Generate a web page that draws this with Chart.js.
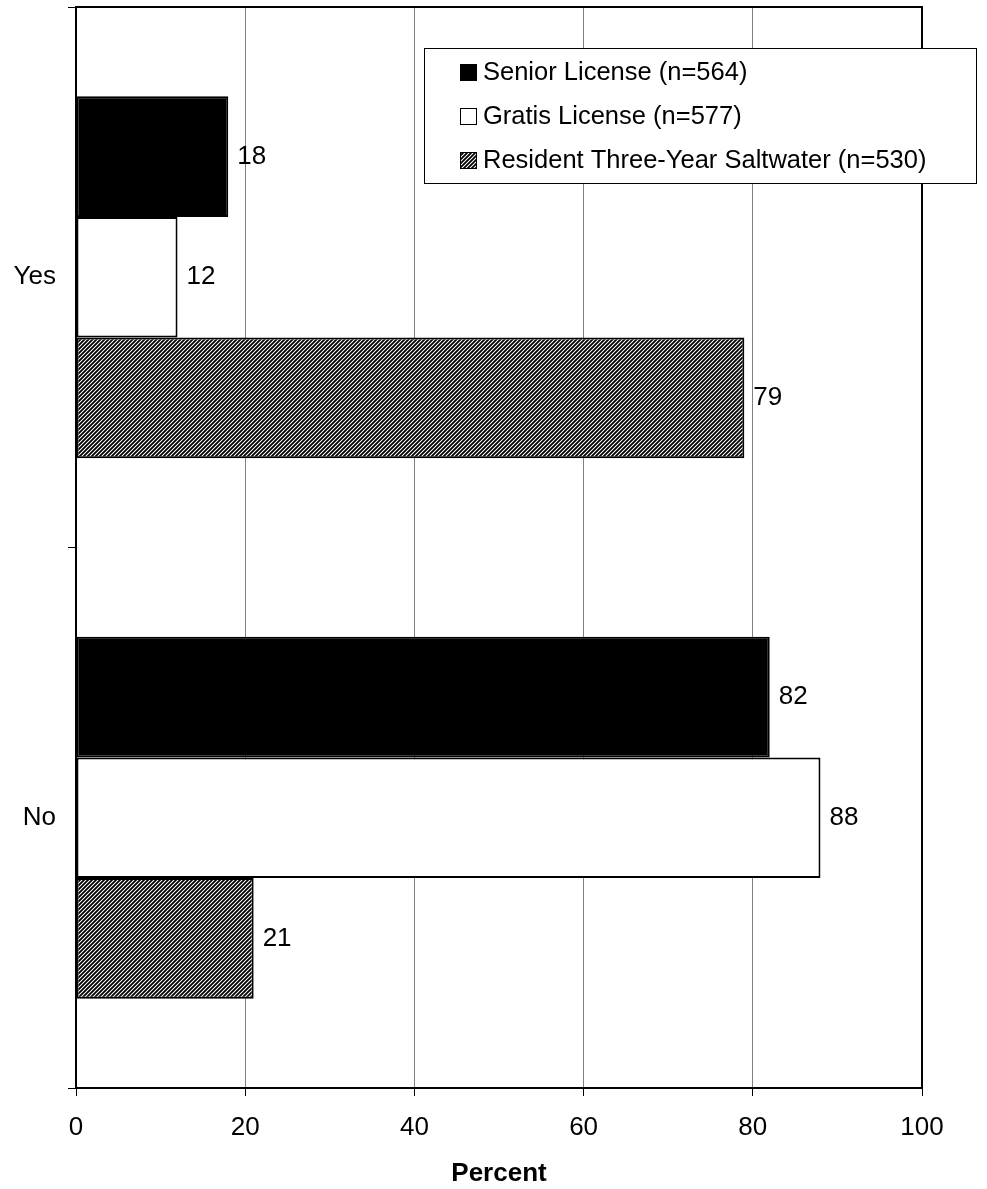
<!DOCTYPE html>
<html>
<head>
<meta charset="utf-8">
<script src="https://cdn.jsdelivr.net/npm/chart.js@4.4.1/dist/chart.umd.min.js"></script>
<style>
  body { margin: 0; background: #fff; }
  canvas { display: block; }
</style>
</head>
<body>
<canvas id="licenseChart" width="987" height="1189"></canvas>
<script>
// categories and series values (percent)
var categories = ["Yes", "No"];
var seniorValues = [18, 82];
var gratisValues = [12, 88];
var residentValues = [79, 21];
var seriesLabels = ["Senior License (n=564)", "Gratis License (n=577)", "Resident Three-Year Saltwater (n=530)"];
var xTicks = [0, 20, 40, 60, 80, 100];

var FONT = "'Liberation Sans', Arial, sans-serif";

// diagonal hatch for the third series
function makeHatch() {
	var c = document.createElement("canvas");
	c.width = 4; c.height = 4;
	var g = c.getContext("2d");
	g.fillStyle = "#fff";
	g.fillRect(0, 0, 4, 4);
	g.strokeStyle = "#000";
	g.lineWidth = 1.8;
	g.beginPath();
	g.moveTo(-1, 5); g.lineTo(5, -1);
	g.moveTo(-1, 1); g.lineTo(1, -1);
	g.moveTo(3, 5); g.lineTo(5, 3);
	g.stroke();
	return document.getElementById("licenseChart").getContext("2d").createPattern(c, "repeat");
}
var hatch = makeHatch();

var frame = {
	id: "frame",
	afterDatasetsDraw: function(chart) {
		var a = chart.chartArea, ctx = chart.ctx;
		ctx.save();
		ctx.strokeStyle = "#000";
		ctx.lineWidth = 2;
		ctx.strokeRect(a.left, a.top, a.right - a.left, a.bottom - a.top);
		ctx.restore();
	}
};

var valueLabels = {
	id: "valueLabels",
	afterDatasetsDraw: function(chart) {
		var ctx = chart.ctx;
		ctx.save();
		ctx.font = "26px " + FONT;
		ctx.fillStyle = "#000";
		ctx.textAlign = "left";
		ctx.textBaseline = "middle";
		chart.data.datasets.forEach(function(ds, i) {
			chart.getDatasetMeta(i).data.forEach(function(bar, j) {
				ctx.fillText(ds.data[j], bar.x + 9, bar.y);
			});
		});
		ctx.restore();
	}
};

var boxLegend = {
	id: "boxLegend",
	afterDraw: function(chart) {
		var ctx = chart.ctx;
		var bx = 424, by = 48, bw = 552, bh = 135;
		ctx.save();
		ctx.fillStyle = "#fff";
		ctx.fillRect(bx, by, bw, bh);
		ctx.strokeStyle = "#000";
		ctx.lineWidth = 1;
		ctx.strokeRect(bx + 0.5, by + 0.5, bw, bh);
		ctx.font = "25.5px " + FONT;
		ctx.textBaseline = "middle";
		chart.data.datasets.forEach(function(ds, i) {
			var cy = 72 + i * 44;
			ctx.fillStyle = ds.backgroundColor;
			ctx.fillRect(460, cy - 8, 17, 17);
			ctx.strokeStyle = "#000";
			ctx.lineWidth = 1;
			ctx.strokeRect(460.5, cy - 7.5, 16, 16);
			ctx.fillStyle = "#000";
			ctx.fillText(ds.label, 483, cy + 1);
		});
		ctx.restore();
	}
};

new Chart("licenseChart", {
	type: "bar",
	data: {
		labels: categories,
		datasets: [
			{label: seriesLabels[0], data: seniorValues, backgroundColor: "#000", borderColor: "#000", borderWidth: 2, borderSkipped: false},
			{label: seriesLabels[1], data: gratisValues, backgroundColor: "#fff", borderColor: "#000", borderWidth: 2, borderSkipped: false},
			{label: seriesLabels[2], data: residentValues, backgroundColor: hatch, borderColor: "#000", borderWidth: 2, borderSkipped: false}
		]
	},
	options: {
		indexAxis: "y",
		responsive: false,
		animation: false,
		devicePixelRatio: 1,
		categoryPercentage: 0.67,
		barPercentage: 1.0,
		layout: {padding: {top: 7, right: 65, left: 0, bottom: 0}},
		plugins: {legend: {display: false}, tooltip: {enabled: false}},
		scales: {
			x: {
				min: 0, max: 100,
				afterBuildTicks: function(scale) { scale.ticks = xTicks.map(function(v){ return {value: v}; }); },
				afterFit: function(scale) { scale.height = 101; },
				grid: {color: "#808080", lineWidth: 1, tickColor: "#000", tickLength: 8},
				border: {color: "#000", width: 2},
				ticks: {color: "#000", font: {family: FONT, size: 26}, padding: 16, maxRotation: 0},
				title: {display: true, text: "Percent", color: "#000", font: {family: FONT, size: 26, weight: "bold"}, padding: {top: 6, bottom: 0}}
			},
			y: {
				afterFit: function(scale) { scale.width = 76; scale.paddingTop = 0; scale.paddingBottom = 0; },
				grid: {offset: true, drawOnChartArea: false, tickColor: "#000", tickLength: 8},
				border: {color: "#000", width: 2},
				ticks: {color: "#000", font: {family: FONT, size: 26}, padding: 12}
			}
		}
	},
	plugins: [frame, valueLabels, boxLegend]
});
</script>
</body>
</html>
